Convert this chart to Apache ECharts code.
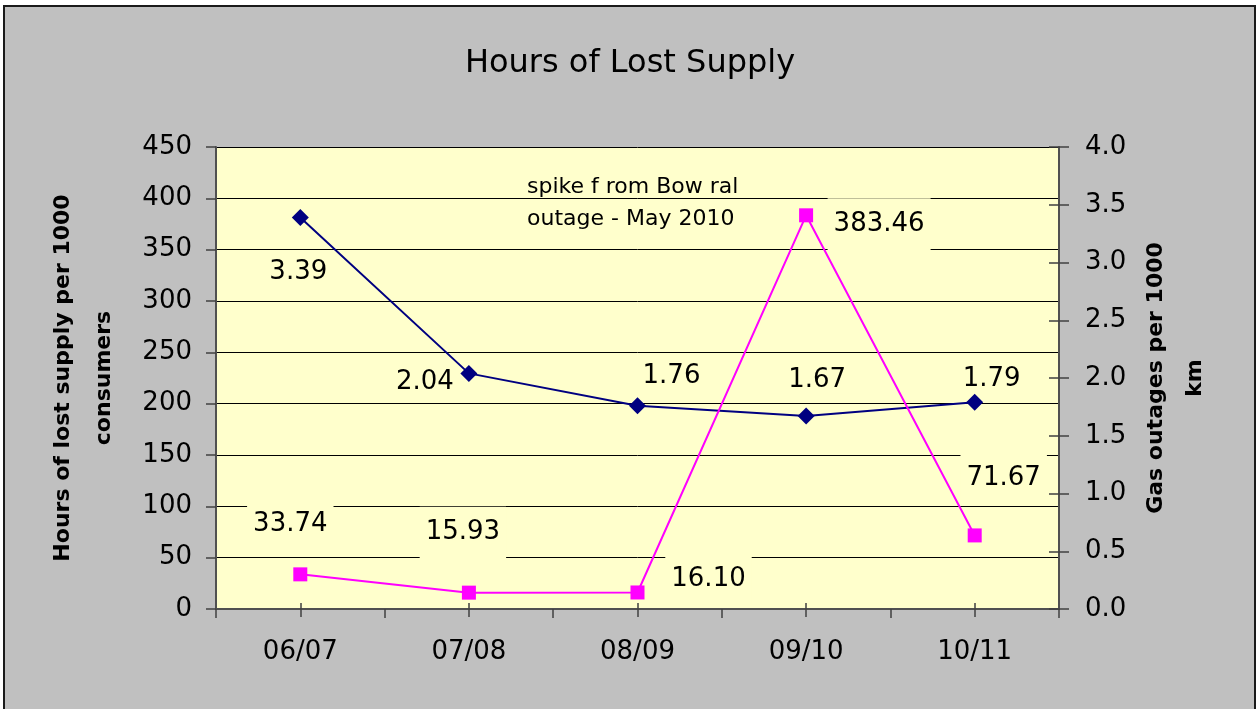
<!DOCTYPE html>
<html>
<head>
<meta charset="utf-8">
<script src="https://cdn.jsdelivr.net/npm/echarts@6/dist/echarts.min.js"></script>
<style>
  html, body { margin: 0; padding: 0; background: #ffffff; }
  #frame { position: absolute; left: 3px; top: 5px; width: 1253px; height: 712px; background: #c0c0c0; border: 2px solid #1a1a1a; box-sizing: border-box; }
  #chart { position: absolute; left: 0; top: 0; width: 1260px; height: 709px; }
</style>
</head>
<body>
<div id="frame"></div>
<div id="chart"></div>
<script>
// ---- data ----
const categories = ['06/07', '07/08', '08/09', '09/10', '10/11'];
const lostSupplyHours = [33.74, 15.93, 16.10, 383.46, 71.67];   // left axis (pink)
const gasOutages = [3.39, 2.04, 1.76, 1.67, 1.79];             // right axis (navy)
const leftAxisMin = 0, leftAxisMax = 450, leftAxisStep = 50;
const rightAxisMin = 0, rightAxisMax = 4, rightAxisStep = 0.5;
const titleText = 'Hours of Lost Supply';
const leftAxisTitle = ['Hours of lost supply per 1000', 'consumers'];
const rightAxisTitle = ['Gas outages per 1000', 'km'];
const noteLines = ['spike f rom Bow ral', 'outage - May 2010'];

// ---- label placement (style) ----
const pinkLabelOffsets = [[-10, -50], [-6, -60], [71, -13], [73, 9], [29, -57]];
const navyLabelOffsets = [[-2, 55], [-44, 9], [34, -29], [11, -36], [17, -23]];

const FONT = 'DejaVu Sans';
const PLOT_BG = '#ffffcc';

const pinkData = lostSupplyHours.map((v, i) => ({
  value: v,
  label: { offset: pinkLabelOffsets[i] }
}));
const navyData = gasOutages.map((v, i) => ({
  value: v,
  label: { offset: navyLabelOffsets[i] }
}));

const chart = echarts.init(document.getElementById('chart'), null, { renderer: 'canvas' });

const hiddenX = {
  type: 'category', data: categories, position: 'bottom',
  axisLine: { show: false }, axisLabel: { show: false }, splitLine: { show: false }
};

chart.setOption({
  backgroundColor: 'transparent',
  animation: false,
  textStyle: { fontFamily: FONT },
  title: {
    text: titleText, left: 'center', top: 43,
    textStyle: { fontFamily: FONT, fontSize: 32, fontWeight: 'normal', color: '#000' }
  },
  grid: {
    left: 216, right: 201, top: 147, bottom: 100,
    show: true, backgroundColor: PLOT_BG, borderWidth: 0
  },
  xAxis: [
    {
      type: 'category', data: categories, boundaryGap: true, position: 'bottom',
      axisLine: { show: true, lineStyle: { color: '#505050', width: 2 } },
      axisTick: { show: true, length: 9, lineStyle: { color: '#404040', width: 1.5 } },
      axisLabel: { margin: 30, fontFamily: FONT, fontSize: 26, color: '#000' },
      splitLine: { show: false }
    },
    Object.assign({}, hiddenX, { axisTick: { show: true, alignWithLabel: true, length: 8, lineStyle: { color: '#404040', width: 1.5 } } }),
    Object.assign({}, hiddenX, { axisTick: { show: true, alignWithLabel: true, inside: true, length: 6, lineStyle: { color: '#404040', width: 1.5 } } })
  ],
  yAxis: [
    {
      type: 'value', position: 'left', min: leftAxisMin, max: leftAxisMax, interval: leftAxisStep,
      axisLine: { show: true, lineStyle: { color: '#505050', width: 2 } },
      axisTick: { show: true, length: 10, lineStyle: { color: '#404040', width: 1.5 } },
      axisLabel: { margin: 24, fontFamily: FONT, fontSize: 26, color: '#000' },
      splitLine: { show: true, lineStyle: { color: '#000', width: 1 } }
    },
    {
      type: 'value', position: 'right', min: rightAxisMin, max: rightAxisMax, interval: rightAxisStep,
      axisLine: { show: true, lineStyle: { color: '#505050', width: 2 } },
      axisTick: { show: true, length: 10, lineStyle: { color: '#404040', width: 1.5 } },
      axisLabel: { margin: 26, fontFamily: FONT, fontSize: 26, color: '#000', formatter: v => v.toFixed(1) },
      splitLine: { show: false }
    },
    {
      type: 'value', position: 'right', min: rightAxisMin, max: rightAxisMax, interval: rightAxisStep,
      axisLine: { show: false },
      axisTick: { show: true, inside: true, length: 10, lineStyle: { color: '#404040', width: 1.5 } },
      axisLabel: { show: false },
      splitLine: { show: false }
    }
  ],
  series: [
    {
      name: 'Gas outages', type: 'line', yAxisIndex: 1, data: navyData,
      symbol: 'diamond', symbolSize: 17,
      itemStyle: { color: '#000080' },
      lineStyle: { color: '#000080', width: 2 },
      label: {
        show: true, position: 'inside', fontFamily: FONT, fontSize: 26, color: '#000',
        formatter: p => p.value.toFixed(2)
      },
      z: 3
    },
    {
      name: 'Hours of lost supply', type: 'line', yAxisIndex: 0, data: pinkData,
      symbol: 'rect', symbolSize: 14,
      itemStyle: { color: '#ff00ff' },
      lineStyle: { color: '#ff00ff', width: 2 },
      label: {
        show: true, position: 'inside', fontFamily: FONT, fontSize: 26, color: '#000',
        backgroundColor: PLOT_BG, padding: [13, 6, 13, 6],
        formatter: p => p.value.toFixed(2)
      },
      z: 4
    }
  ],
  graphic: [
    {
      type: 'text', x: 63, y: 378, rotation: Math.PI / 2,
      style: { text: leftAxisTitle[0], x: 0, y: 0, align: 'center', verticalAlign: 'middle',
               font: 'bold 22px "DejaVu Sans"', fill: '#000' }
    },
    {
      type: 'text', x: 104, y: 378, rotation: Math.PI / 2,
      style: { text: leftAxisTitle[1], x: 0, y: 0, align: 'center', verticalAlign: 'middle',
               font: 'bold 22px "DejaVu Sans"', fill: '#000' }
    },
    {
      type: 'text', x: 1156, y: 378, rotation: Math.PI / 2,
      style: { text: rightAxisTitle[0], x: 0, y: 0, align: 'center', verticalAlign: 'middle',
               font: 'bold 22px "DejaVu Sans"', fill: '#000' }
    },
    {
      type: 'text', x: 1195, y: 378, rotation: Math.PI / 2,
      style: { text: rightAxisTitle[1], x: 0, y: 0, align: 'center', verticalAlign: 'middle',
               font: 'bold 22px "DejaVu Sans"', fill: '#000' }
    },
    {
      type: 'text', x: 527, y: 187, z: 10,
      style: { text: noteLines[0], x: 0, y: 0, align: 'left', verticalAlign: 'middle',
               font: '22px "DejaVu Sans"', fill: '#000' }
    },
    {
      type: 'text', x: 527, y: 219, z: 10,
      style: { text: noteLines[1], x: 0, y: 0, align: 'left', verticalAlign: 'middle',
               font: '22px "DejaVu Sans"', fill: '#000' }
    }
  ]
});
</script>
</body>
</html>
